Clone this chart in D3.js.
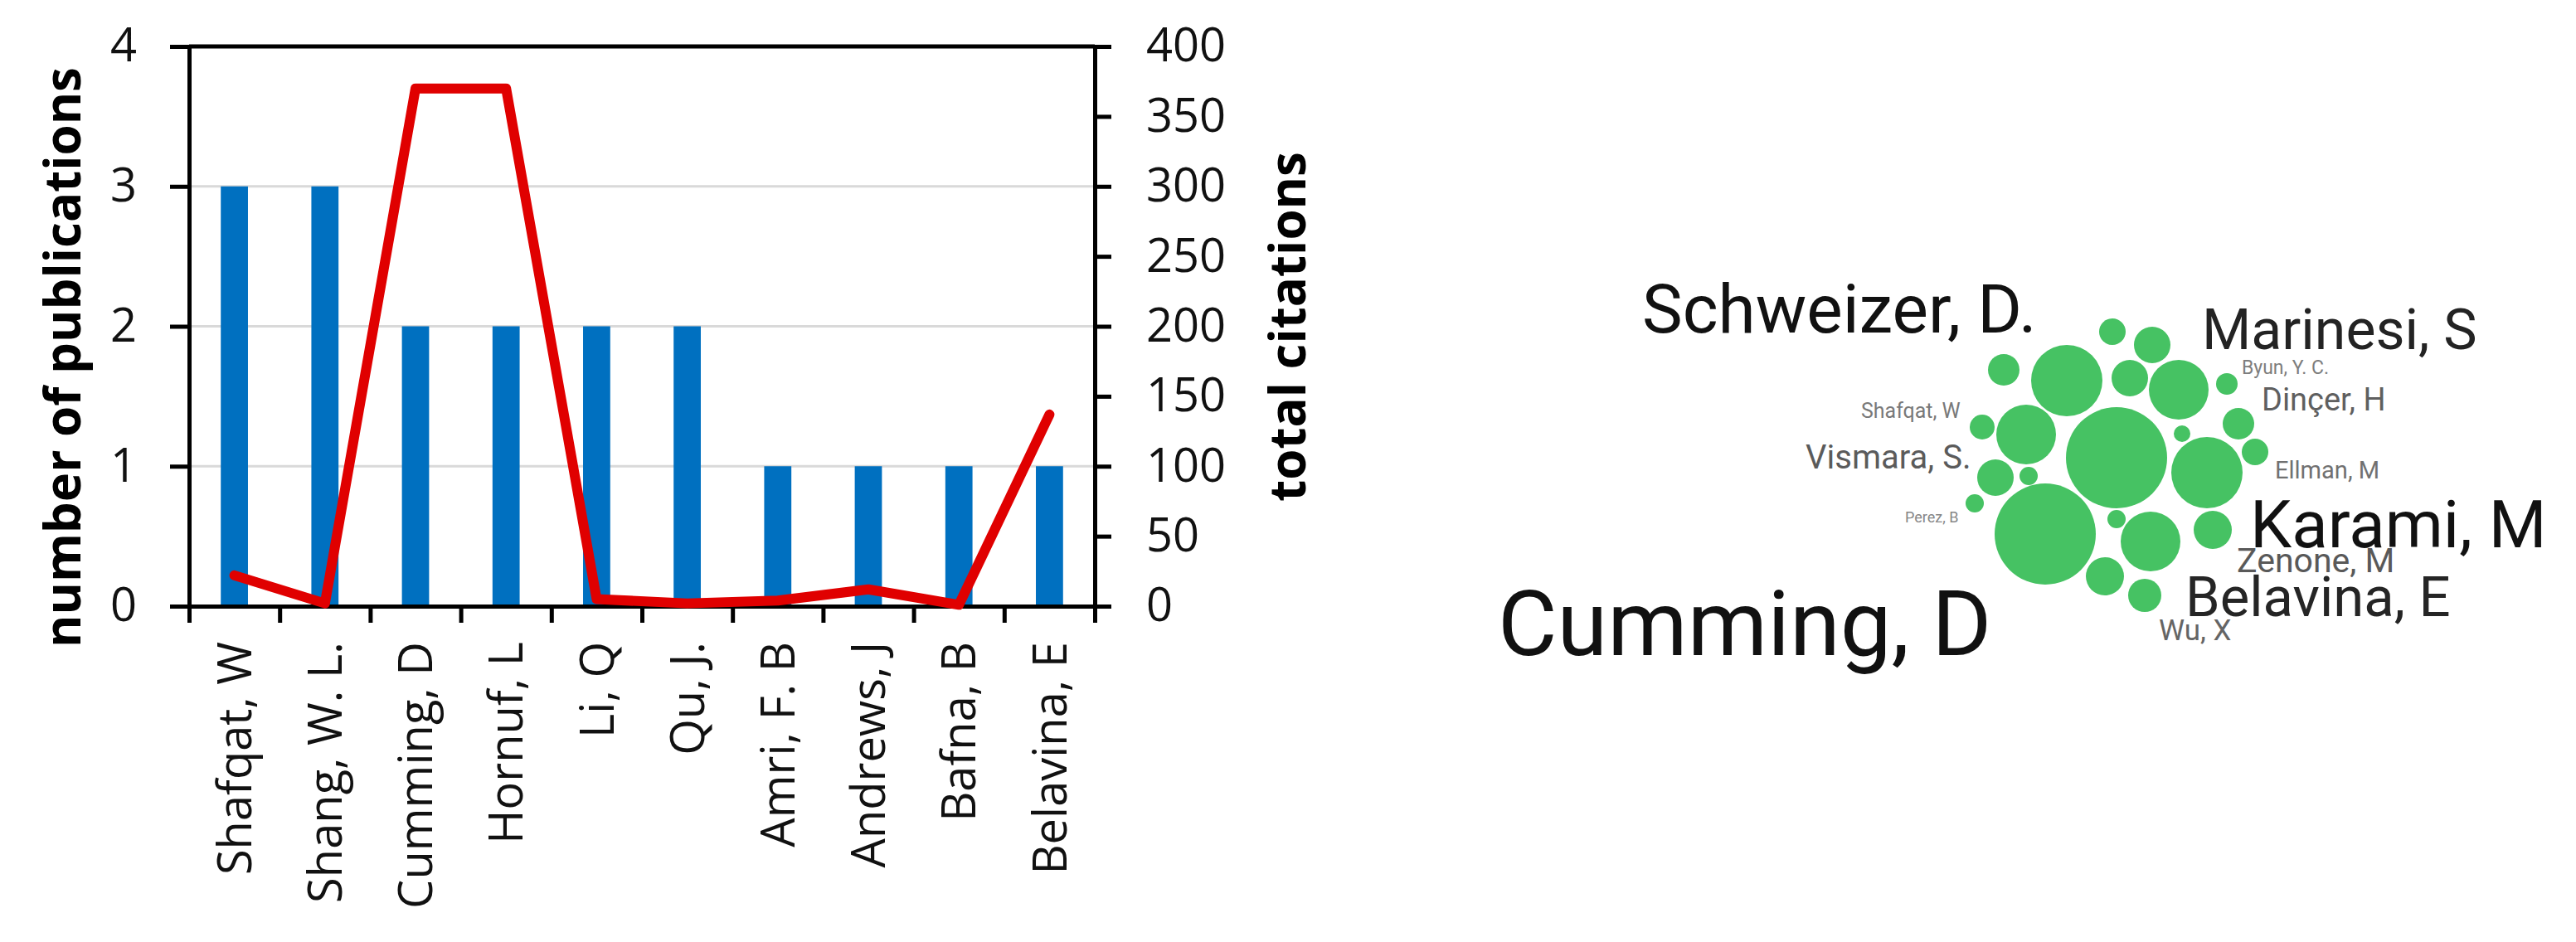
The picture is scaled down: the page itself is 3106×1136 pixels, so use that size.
<!DOCTYPE html>
<html>
<head>
<meta charset="utf-8">
<script src="https://cdn.jsdelivr.net/npm/d3@7/dist/d3.min.js"></script>
<style>
    body { margin: 0; background: #fff; }
    svg { display: block; }
</style>
</head>
<body>
<div id="wrapper"></div>
<script>
// ---- left panel: publications (bars) and citations (line) per author
const authors = ["Shafqat, W", "Shang, W. L.", "Cumming, D", "Hornuf, L", "Li, Q",
    "Qu, J.", "Amri, F. B", "Andrews, J", "Bafna, B", "Belavina, E"];
const publications = [3, 3, 2, 2, 2, 2, 1, 1, 1, 1];
const citations = [22, 2, 370, 370, 5, 2, 4, 12, 1, 137];
const pubTicks = [0, 1, 2, 3, 4];
const citeTicks = [0, 50, 100, 150, 200, 250, 300, 350, 400];
const gridTicks = [1, 2, 3];

// ---- right panel: co-authorship bubble map (layout coordinates, bubble size)
const bubbleX = [-0.03, 0.45, -1.34, -0.58, 0.18, 0.77, 1.35, 1.49, -1.60, -1.07, 0.02, 0.81,
    1.69, 1.11, -1.44, -1.04, -1.69, -0.84, 0.02, 0.43, 1.18, -0.12, 0.36];
const bubbleY = [-1.60, -1.44, -1.14, -1.01, -1.04, -0.90, -0.97, -0.49, -0.45, -0.36, -0.08, -0.37,
    -0.15, 0.10, 0.16, 0.14, 0.47, 0.84, 0.66, 0.93, 0.79, 1.35, 1.58];
const bubbleSize = [0.16, 0.22, 0.19, 0.43, 0.22, 0.36, 0.13, 0.19, 0.15, 0.36, 0.61, 0.10,
    0.16, 0.43, 0.22, 0.11, 0.11, 0.61, 0.11, 0.36, 0.23, 0.23, 0.20];

const labelNames = ["Schweizer, D.", "Marinesi, S", "Byun, Y. C.", "Dinçer, H", "Shafqat, W",
    "Vismara, S.", "Ellman, M", "Perez, B", "Karami, M", "Zenone, M", "Belavina, E", "Wu, X", "Cumming, D"];
const labelX = [-5.70, 1.05, 1.53, 1.77, -3.06, -3.73, 1.93, -2.53, 1.63, 1.47, 0.85, 0.53, -7.44];
const labelY = [-1.59, -1.39, -1.09, -0.65, -0.56, 0.05, 0.17, 0.70, 1.00, 1.30, 1.83, 2.12, 2.30];
const labelWeight = [7.45, 6.18, 2.09, 3.45, 2.27, 3.64, 2.64, 1.64, 7.27, 3.73, 6.09, 3.18, 10];

const dimension = {
    width: 3106,
    height: 1136,
    plot: { left: 228, right: 1320, top: 56, bottom: 731 }
};

const svg = d3.select("#wrapper")
    .append("svg")
    .attr("width", dimension.width)
    .attr("height", dimension.height)
    .style("background", "#fff");

const p = dimension.plot;

const x = d3.scaleBand()
    .domain(authors)
    .range([p.left, p.right]);

const yPub = d3.scaleLinear()
    .domain([0, 4])
    .range([p.bottom, p.top]);

const yCite = d3.scaleLinear()
    .domain([0, 400])
    .range([p.bottom, p.top]);

const left = svg.append("g");

// grid lines
left.append("g")
    .selectAll("line")
    .data(gridTicks)
    .enter()
    .append("line")
    .attr("x1", p.left)
    .attr("x2", p.right)
    .attr("y1", d => yPub(d))
    .attr("y2", d => yPub(d))
    .attr("stroke", "#d9d9d9")
    .attr("stroke-width", 3);

// bars
const barW = x.bandwidth() * 0.3;
left.append("g")
    .selectAll("rect")
    .data(publications)
    .enter()
    .append("rect")
    .attr("x", (d, i) => x(authors[i]) + (x.bandwidth() - barW) / 2)
    .attr("y", d => yPub(d))
    .attr("width", barW)
    .attr("height", d => yPub(0) - yPub(d))
    .attr("fill", "#0070c0");

// top border of plot area
left.append("line")
    .attr("x1", p.left)
    .attr("x2", p.right)
    .attr("y1", yPub(4))
    .attr("y2", yPub(4))
    .attr("stroke", "#000")
    .attr("stroke-width", 5);

function styleAxis(g) {
    g.select(".domain").attr("stroke", "#000").attr("stroke-width", 5);
    g.selectAll(".tick line").attr("stroke", "#000").attr("stroke-width", 5);
    g.selectAll(".tick text")
        .attr("fill", "#111")
        .style("font-family", "'Open Sans', sans-serif")
        .style("font-size", "56px");
}

left.append("g")
    .attr("transform", `translate(${p.left},0)`)
    .call(d3.axisLeft(yPub).tickValues(pubTicks).tickFormat(d3.format("d"))
        .tickSize(23).tickSizeOuter(0).tickPadding(40))
    .call(styleAxis)
    .call(g => g.attr("font-family", null).attr("font-size", null));

left.append("g")
    .attr("transform", `translate(${p.right},0)`)
    .call(d3.axisRight(yCite).tickValues(citeTicks)
        .tickSize(20).tickSizeOuter(0).tickPadding(42))
    .call(styleAxis)
    .call(g => g.attr("font-family", null).attr("font-size", null));

// bottom axis: ticks on category boundaries
const xEdge = d3.scaleLinear()
    .domain([0, authors.length])
    .range([p.left, p.right]);

left.append("g")
    .attr("transform", `translate(0,${p.bottom})`)
    .call(d3.axisBottom(xEdge).tickValues(d3.range(authors.length + 1))
        .tickFormat("").tickSize(20).tickSizeOuter(0))
    .call(styleAxis);

// category labels
left.append("g")
    .selectAll("text")
    .data(authors)
    .enter()
    .append("text")
    .attr("transform", d => `translate(${x(d) + x.bandwidth() / 2},774) rotate(-90)`)
    .attr("dy", "0.36em")
    .style("text-anchor", "end")
    .style("font-family", "'Open Sans', sans-serif")
    .style("font-size", "56px")
    .attr("fill", "#111")
    .text(d => d);

// axis titles
left.append("text")
    .attr("transform", "translate(97,431) rotate(-90)")
    .style("text-anchor", "middle")
    .style("font-family", "'Open Sans', sans-serif")
    .style("font-weight", "bold")
    .style("font-size", "60px")
    .attr("fill", "#000")
    .text("number of publications");

left.append("text")
    .attr("transform", "translate(1574,394) rotate(-90)")
    .style("text-anchor", "middle")
    .style("font-family", "'Open Sans', sans-serif")
    .style("font-weight", "bold")
    .style("font-size", "60px")
    .attr("fill", "#000")
    .text("total citations");

// citation line
const line = d3.line()
    .x((d, i) => x(authors[i]) + x.bandwidth() / 2)
    .y(d => yCite(d));

left.append("path")
    .datum(citations)
    .attr("d", line)
    .attr("fill", "none")
    .attr("stroke", "#e00000")
    .attr("stroke-width", 12)
    .attr("stroke-linejoin", "round")
    .attr("stroke-linecap", "round");

// ---- right panel
const bx = d3.scaleLinear().domain([-10, 10]).range([1550, 3550]);
const by = d3.scaleLinear().domain([-5, 5]).range([60, 1060]);
const br = d3.scaleLinear().domain([0, 1]).range([0, 100]);
const fontSize = d3.scaleLinear().domain([0, 10]).range([0, 110]);
const labelColor = d3.scaleLinear().domain([1.5, 7]).range(["#8a8a8a", "#111"]).clamp(true);

const right = svg.append("g");

right.append("g")
    .selectAll("circle")
    .data(bubbleSize)
    .enter()
    .append("circle")
    .attr("cx", (d, i) => bx(bubbleX[i]))
    .attr("cy", (d, i) => by(bubbleY[i]))
    .attr("r", d => br(d))
    .attr("fill", "#46c263");

right.append("g")
    .selectAll("text")
    .data(labelNames)
    .enter()
    .append("text")
    .attr("x", (d, i) => bx(labelX[i]))
    .attr("y", (d, i) => by(labelY[i]))
    .style("font-family", "Roboto, sans-serif")
    .style("font-size", (d, i) => fontSize(labelWeight[i]) + "px")
    .attr("fill", (d, i) => labelColor(labelWeight[i]))
    .text(d => d);
</script>
</body>
</html>
